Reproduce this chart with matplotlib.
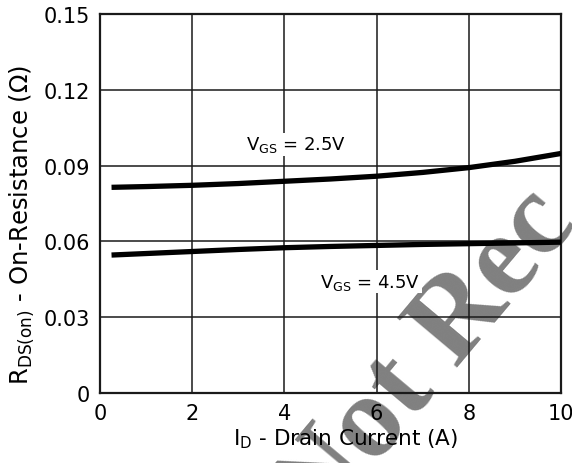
import matplotlib.pyplot as plt

plt.rcParams['font.family'] = ['DejaVu Sans']
plt.rcParams['mathtext.fontset'] = 'dejavusans'

# Drain current (A) and on-resistance (ohm)
current = [0.25, 1, 2, 3, 4, 5, 6, 7, 8, 9, 10]
r_vgs_25 = [0.0814, 0.0817, 0.0822, 0.0829, 0.0838, 0.0847, 0.0858, 0.0873, 0.0892, 0.0917, 0.0948]
r_vgs_45 = [0.0546, 0.0552, 0.0560, 0.0568, 0.0575, 0.0580, 0.0584, 0.0588, 0.0591, 0.0594, 0.0597]

x_ticks = [0, 2, 4, 6, 8, 10]
y_ticks = [0, 0.03, 0.06, 0.09, 0.12, 0.15]
y_tick_labels = ['0', '0.03', '0.06', '0.09', '0.12', '0.15']

fig = plt.figure(figsize=(5.72, 4.64), dpi=100)
ax = fig.add_axes([100 / 572, 1 - 394 / 464, 461 / 572, 379 / 464])
ax.patch.set_visible(False)  # let the watermark show through, under the grid

ax.plot(current, r_vgs_25, color='black', lw=3.8, solid_capstyle='butt', zorder=3)
ax.plot(current, r_vgs_45, color='black', lw=3.8, solid_capstyle='butt', zorder=3)

ax.set_xlim(0, 10)
ax.set_ylim(0, 0.15)
ax.set_xticks(x_ticks)
ax.set_yticks(y_ticks)
ax.set_yticklabels(y_tick_labels)
ax.tick_params(length=0, labelsize=15, pad=7)
ax.grid(True, color='#1a1a1a', lw=1.1)
for s in ax.spines.values():
    s.set_linewidth(1.6)
    s.set_color('#1a1a1a')

ax.text(4.25, 0.0985, r'V$_{\mathregular{GS}}$ = 2.5V', fontsize=13, ha='center', va='center',
        bbox=dict(facecolor='white', edgecolor='none', pad=1))
ax.text(5.86, 0.0441, r'V$_{\mathregular{GS}}$ = 4.5V', fontsize=13, ha='center', va='center',
        bbox=dict(facecolor='white', edgecolor='none', pad=1))

ax.set_xlabel(r'I$_{\mathregular{D}}$ - Drain Current (A)', fontsize=15.5)
ax.xaxis.set_label_coords(0.533, -0.088)
ax.set_ylabel(r'R$_{\mathregular{DS(on)}}$ - On-Resistance ($\mathregular{\Omega}$)', fontsize=17.5)
ax.yaxis.set_label_coords(-0.138, 0.446)

# watermark, drawn beneath the chart
fig.text(319 / 572, 1 - 532 / 464, 'Not Rec', fontsize=85, family='Liberation Serif',
         weight='bold', color='#808080', rotation=50, rotation_mode='anchor',
         ha='left', va='baseline', zorder=-1)

fig.savefig('out.png', dpi=100)
